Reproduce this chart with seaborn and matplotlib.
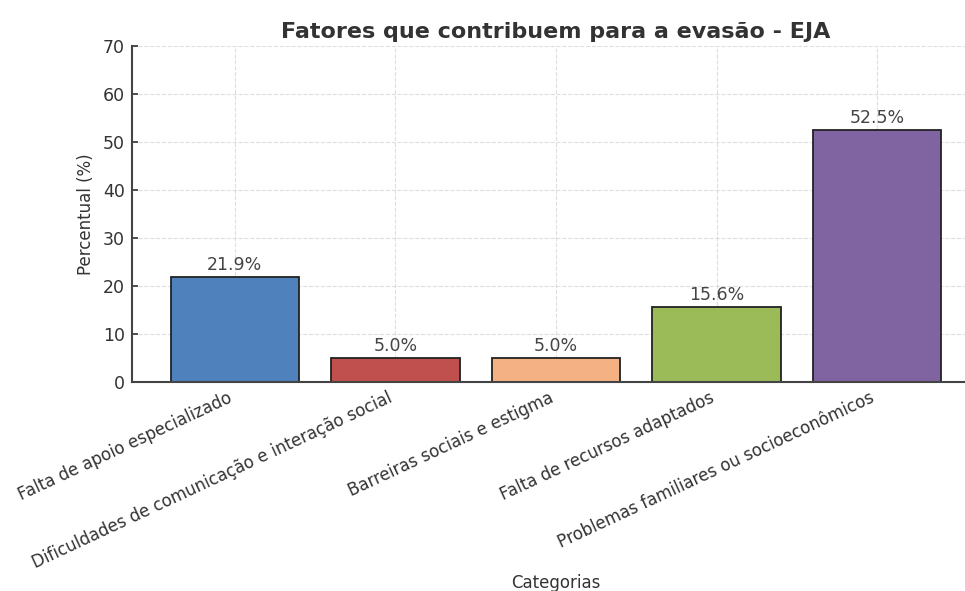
import matplotlib
matplotlib.use("Agg")
import matplotlib.pyplot as plt
import seaborn as sns
import pandas as pd

categorias = [
    "Falta de apoio especializado",
    "Dificuldades de comunicação e interação social",
    "Barreiras sociais e estigma",
    "Falta de recursos adaptados",
    "Problemas familiares ou socioeconômicos",
]
percentuais = [21.9, 5.0, 5.0, 15.6, 52.5]
cores = ["#4f81bd", "#c0504d", "#f4b183", "#9bbb59", "#8064a2"]
yticks = [0, 10, 20, 30, 40, 50, 60, 70]

sns.set_style("ticks")
plt.rcParams["font.family"] = ["DejaVu Sans"]
texto = "#333333"

df = pd.DataFrame({"Categorias": categorias, "Percentual": percentuais})

fig = plt.figure(figsize=(9.65, 5.91), dpi=100)
ax = fig.add_axes([132 / 965, 1 - 382 / 591, (980 - 132) / 965, (382 - 46) / 591])

sns.barplot(
    data=df, x="Categorias", y="Percentual", hue="Categorias",
    palette=cores, legend=False, width=0.8,
    edgecolor="#222222", linewidth=1.3, saturation=1, ax=ax,
)

for cont in ax.containers:
    ax.bar_label(cont, fmt="%.1f%%", padding=2, fontsize=12.5, color="#444444")

ax.set_xlim(-0.64, 4.64)
ax.set_ylim(0, 70)
ax.set_yticks(yticks)
for bar in ax.patches:
    bar.set_zorder(1)
ax.grid(True, linestyle="--", color="#d0d0d0", linewidth=0.8, alpha=0.7, zorder=2)

ax.set_title("Fatores que contribuem para a evasão - EJA", fontsize=16,
             fontweight="bold", color=texto, pad=6)
ax.set_ylabel("Percentual (%)", fontsize=12, color=texto, labelpad=6)
ax.set_xlabel("Categorias", fontsize=12, color=texto)
ax.xaxis.set_label_coords(0.5, -0.572)

ax.tick_params(axis="both", labelsize=12.5, colors=texto, direction="in",
               length=4, width=1.2, pad=5)
plt.setp(ax.get_xticklabels(), rotation=25, ha="right", fontsize=12)

sns.despine(ax=ax)
for s in ("left", "bottom"):
    ax.spines[s].set_color("#444444")
    ax.spines[s].set_linewidth(1.5)

fig.savefig("out.png", dpi=100)
